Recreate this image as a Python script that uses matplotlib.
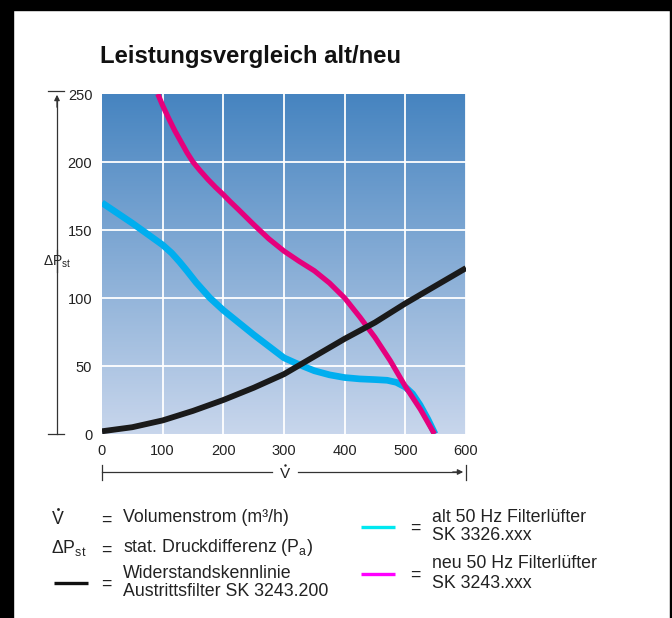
import matplotlib.pyplot as plt
import numpy as np
from matplotlib.patches import Rectangle

plt.rcParams['font.family'] = ['Liberation Sans', 'DejaVu Sans']

# --- data ---
v_neu = [92, 100, 110, 120, 130, 140, 150, 162, 175, 187, 200, 211, 225, 250,
         275, 300, 325, 350, 375, 400, 425, 450, 475, 500, 525, 548]
p_neu = [250, 241.5, 232, 223, 215, 207, 200, 193.5, 187, 181.5, 176, 171, 165,
         154, 143.5, 134.5, 127, 120, 111, 100, 86, 71, 54, 35, 18, 0]

v_alt = [0, 25, 50, 75, 100, 115, 128, 140, 155, 178, 200, 225, 250, 275, 300,
         325, 350, 375, 400, 425, 450, 470, 485, 500, 512, 524, 537, 549]
p_alt = [170, 162.5, 155, 147, 139, 133, 126.5, 120, 111.5, 100, 91, 82, 73,
         64.5, 56, 51, 46.5, 43.5, 41.5, 40.5, 40, 39.5, 38, 34.5, 29.5, 21.5, 11, 0]

v_filter = [0, 50, 100, 150, 200, 250, 300, 350, 400, 450, 500, 550, 600]
p_filter = [2, 5, 10, 17, 25, 34, 44, 57, 70, 82, 96, 109, 122]

x_ticks = [0, 100, 200, 300, 400, 500, 600]
y_ticks = [0, 50, 100, 150, 200, 250]

W, H = 672, 618
txt = '#222222'

fig = plt.figure(figsize=(W / 100, H / 100), dpi=100, facecolor='white')

# main chart area (pixel box 102..466 x 94..434)
ax = fig.add_axes([102 / W, 1 - 434 / H, 364 / W, 340 / H])
grad = np.linspace(0, 1, 256).reshape(-1, 1)
top = np.array([0x46, 0x84, 0xc0]) / 255
bot = np.array([0xc8, 0xd6, 0xec]) / 255
img = top + (bot - top) * grad[..., None]
ax.imshow(img, extent=[0, 600, 0, 250], aspect='auto', zorder=0)
for x in x_ticks[1:]:
    ax.axvline(x, color='white', lw=1.3, zorder=1)
for y in y_ticks[1:-1]:
    ax.axhline(y, color='white', lw=1.3, zorder=1)

kw = dict(solid_capstyle='butt', solid_joinstyle='round')
ax.plot(v_alt, p_alt, color='#00aeef', lw=4.8, zorder=2, **kw)
ax.plot(v_neu, p_neu, color='#e5007d', lw=3.8, zorder=3, **kw)
ax.plot(v_filter, p_filter, color='#1a1a1a', lw=4.2, zorder=4, **kw)

ax.set_xlim(0, 600)
ax.set_ylim(0, 250)
ax.set_xticks(x_ticks)
ax.set_yticks(y_ticks)
ax.tick_params(length=0, labelsize=10.5, labelcolor=txt, pad=7)
for s in ax.spines.values():
    s.set_visible(False)

# overlay in pixel coordinates for arrows, labels and the key
ov = fig.add_axes([0, 0, 1, 1], zorder=-1)
ov.set_xlim(0, W)
ov.set_ylim(H, 0)
ov.axis('off')
ov.patch.set_alpha(0)

# frame edges
fig.patches.append(Rectangle((0, 0), 13 / W, 1, transform=fig.transFigure,
                             color='black', zorder=10))
fig.patches.append(Rectangle((0, 1 - 10 / H), 1, 10 / H, transform=fig.transFigure,
                             color='black', zorder=10))
fig.patches.append(Rectangle((1 - 2 / W, 0), 2 / W, 1, transform=fig.transFigure,
                             color='black', zorder=10))

fig.text(100 / W, 1 - 57 / H, 'Leistungsvergleich alt/neu', fontsize=17.2,
         fontweight='bold', color='#111111', ha='left', va='center')


def vdot(x, y, size, ha='center'):
    # V with an overdot
    t = ov.text(x, y, 'V', fontsize=size, color=txt, ha=ha, va='center')
    r = fig.canvas.get_renderer()
    bb = t.get_window_extent(r)
    cx = (bb.x0 + bb.x1) / 2
    cy = H - bb.y1
    ov.plot([cx], [cy - 2.2], 'o', ms=size * 0.16, color=txt, mec='none')


# vertical ΔPst arrow
lc = '#333333'
ov.plot([57, 57], [434, 250], color=lc, lw=0.9)
ov.plot([57, 57], [272, 98], color=lc, lw=0.9)
ov.annotate('', xy=(57, 92), xytext=(57, 110),
            arrowprops=dict(arrowstyle='-|>', color=lc, lw=0.9, mutation_scale=8))
ov.plot([48, 64], [91, 91], color=lc, lw=0.9)
ov.plot([48, 64], [434, 434], color=lc, lw=0.9)
ov.text(57, 262, r'ΔP$_\mathregular{st}$', fontsize=10, color=txt, ha='center', va='center')

# horizontal V arrow
ov.plot([102, 272], [472, 472], color=lc, lw=0.9)
ov.plot([298, 458], [472, 472], color=lc, lw=0.9)
ov.annotate('', xy=(466, 472), xytext=(450, 472),
            arrowprops=dict(arrowstyle='-|>', color=lc, lw=0.9, mutation_scale=8))
ov.plot([102, 102], [465, 480], color=lc, lw=0.9)
ov.plot([466, 466], [465, 480], color=lc, lw=0.9)
vdot(285, 474, 11)

# key, left column
fs = 12.8
vdot(58, 520, fs)
ov.text(106, 520, '=', fontsize=fs, color=txt, ha='center', va='center')
ov.text(123, 517, 'Volumenstrom (m³/h)', fontsize=fs, color=txt, ha='left', va='center')

ov.text(51, 548, r'ΔP$_\mathregular{st}$', fontsize=fs, color=txt, ha='left', va='center')
ov.text(106, 550, '=', fontsize=fs, color=txt, ha='center', va='center')
ov.text(123, 548, r'stat. Druckdifferenz (P$_\mathregular{a}$)', fontsize=fs,
        color=txt, ha='left', va='center')

ov.plot([54, 88], [583, 583], color='#111111', lw=2.4, solid_capstyle='butt')
ov.text(106, 584, '=', fontsize=fs, color=txt, ha='center', va='center')
ov.text(123, 573, 'Widerstandskennlinie', fontsize=fs, color=txt, ha='left', va='center')
ov.text(123, 592, 'Austrittsfilter SK 3243.200', fontsize=fs, color=txt, ha='left', va='center')

# key, right column
ov.plot([361, 395], [527, 527], color='#00e8f0', lw=2.4, solid_capstyle='butt')
ov.text(415, 528, '=', fontsize=fs, color=txt, ha='center', va='center')
ov.text(432, 517, 'alt 50 Hz Filterlüfter', fontsize=fs, color=txt, ha='left', va='center')
ov.text(432, 536, 'SK 3326.xxx', fontsize=fs, color=txt, ha='left', va='center')

ov.plot([361, 395], [574, 574], color='#ff00ff', lw=2.4, solid_capstyle='butt')
ov.text(415, 575, '=', fontsize=fs, color=txt, ha='center', va='center')
ov.text(432, 564, 'neu 50 Hz Filterlüfter', fontsize=fs, color=txt, ha='left', va='center')
ov.text(432, 583, 'SK 3243.xxx', fontsize=fs, color=txt, ha='left', va='center')

fig.savefig('out.png', dpi=100, facecolor='white')
